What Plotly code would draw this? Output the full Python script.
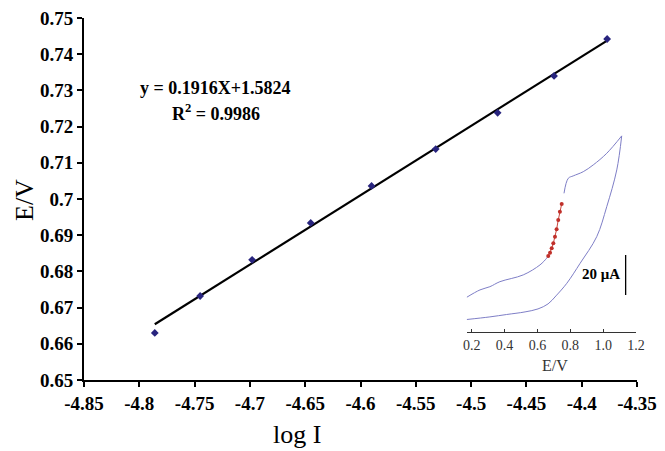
import plotly.graph_objects as go

# Main calibration data
log_i = [-4.786, -4.745, -4.698, -4.645, -4.590, -4.532, -4.476, -4.425, -4.377]
e_v = [0.6630, 0.6732, 0.6832, 0.6934, 0.7036, 0.7138, 0.7238, 0.7340, 0.7442]
slope = 0.1916
intercept = 1.5824
x_ticks = [-4.85, -4.8, -4.75, -4.7, -4.65, -4.6, -4.55, -4.5, -4.45, -4.4, -4.35]
x_tick_text = ["-4.85", "-4.8", "-4.75", "-4.7", "-4.65", "-4.6", "-4.55", "-4.5", "-4.45", "-4.4", "-4.35"]
y_ticks = [0.65, 0.66, 0.67, 0.68, 0.69, 0.70, 0.71, 0.72, 0.73, 0.74, 0.75]
y_tick_text = ["0.65", "0.66", "0.67", "0.68", "0.69", "0.7", "0.71", "0.72", "0.73", "0.74", "0.75"]

# Inset cyclic voltammogram (E in V, I in uA, arbitrary zero)
cv_fwd1_e = [0.170, 0.251, 0.311, 0.372, 0.514, 0.616, 0.656, 0.666]
cv_fwd1_i = [17.2, 20.9, 22.5, 25.0, 28.4, 33.4, 36.7, 37.8]
cv_fwd2_e = [0.762, 0.788, 0.818, 0.879, 0.940, 1.022, 1.113]
cv_fwd2_i = [69.2, 76.7, 77.9, 80.0, 83.4, 89.2, 97.9]
cv_rev_e = [1.113, 1.083, 1.022, 0.961, 0.860, 0.779, 0.713, 0.665, 0.604, 0.525, 0.413, 0.311, 0.170]
cv_rev_i = [97.9, 80.9, 62.5, 47.5, 34.2, 24.2, 17.9, 13.9, 11.4, 9.9, 8.6, 7.4, 6.1]
red_e = [0.666, 0.677, 0.687, 0.697, 0.707, 0.717, 0.727, 0.737, 0.748]
red_i = [37.8, 39.5, 41.7, 44.2, 47.5, 51.2, 55.9, 60.0, 63.9]
inset_ticks = [0.2, 0.4, 0.6, 0.8, 1.0, 1.2]
inset_tick_text = ["0.2", "0.4", "0.6", "0.8", "1.0", "1.2"]
scale_bar_e = [1.137, 1.137]
scale_bar_i = [18.4, 38.4]

FONT = "Times New Roman"
W, H = 665, 451
L, R, T, B = 84, 28, 18, 71
PW, PH = W - L - R, H - T - B


def px_x(px):
    return (px - L) / PW


def px_y(py):
    return (H - B - py) / PH


fig = go.Figure()

fit_x = [log_i[0], log_i[-1]]
fit_y = [slope * v + intercept for v in fit_x]
fig.add_trace(go.Scatter(x=fit_x, y=fit_y, mode="lines",
                         line=dict(color="black", width=2.2), showlegend=False))
fig.add_trace(go.Scatter(x=log_i, y=e_v, mode="markers",
                         marker=dict(symbol="diamond", size=6, color="#28247E"),
                         showlegend=False))

cv_line = dict(color="#7E7EC6", width=1)
fig.add_trace(go.Scatter(x=cv_fwd1_e, y=cv_fwd1_i, mode="lines", line=dict(cv_line, shape="spline"),
                         xaxis="x2", yaxis="y2", showlegend=False))
fig.add_trace(go.Scatter(x=cv_fwd2_e, y=cv_fwd2_i, mode="lines", line=dict(cv_line, shape="spline"),
                         xaxis="x2", yaxis="y2", showlegend=False))
fig.add_trace(go.Scatter(x=cv_rev_e, y=cv_rev_i, mode="lines", line=dict(cv_line, shape="spline"),
                         xaxis="x2", yaxis="y2", showlegend=False))
fig.add_trace(go.Scatter(x=red_e, y=red_i, mode="lines+markers",
                         line=dict(color="#C8463C", width=1),
                         marker=dict(size=4, color="#C0302A"),
                         xaxis="x2", yaxis="y2", showlegend=False))
fig.add_trace(go.Scatter(x=scale_bar_e, y=scale_bar_i, mode="lines",
                         line=dict(color="black", width=1.3),
                         xaxis="x2", yaxis="y2", showlegend=False))


def ann(text, x, y, size, bold_=False, color="black", angle=0, xanchor="center"):
    return dict(text=("<b>%s</b>" % text) if bold_ else text, x=px_x(x), y=px_y(y),
                xref="paper", yref="paper", xanchor=xanchor, yanchor="middle",
                textangle=angle, showarrow=False,
                font=dict(family=FONT, size=size, color=color))


tick_font = dict(family=FONT, size=19, color="black", weight=700)

fig.update_layout(
    width=W, height=H,
    margin=dict(l=L, r=R, t=T, b=B, autoexpand=False),
    paper_bgcolor="white", plot_bgcolor="white",
    font=dict(family=FONT, color="black"),
    xaxis=dict(range=[-4.85, -4.35], tickvals=x_ticks, ticktext=x_tick_text, automargin=False,
               showgrid=False, zeroline=False, showline=True, linecolor="black", linewidth=2,
               ticks="outside", ticklen=5, tickwidth=2, tickcolor="black",
               tickfont=tick_font),
    yaxis=dict(range=[0.65, 0.75], tickvals=y_ticks, ticktext=y_tick_text, automargin=False,
               showgrid=False, zeroline=False, showline=True, linecolor="black", linewidth=2,
               ticks="outside", ticklen=5, tickwidth=2, tickcolor="black",
               tickfont=tick_font),
    xaxis2=dict(domain=[px_x(466.7), px_x(636)], anchor="y2", range=[0.17, 1.2],
                tickvals=inset_ticks, ticktext=inset_tick_text, automargin=False,
                showgrid=False, zeroline=False, showline=True, linecolor="#333", linewidth=1,
                ticks="inside", ticklen=3, tickwidth=1, tickcolor="#333",
                tickfont=dict(family=FONT, size=14, color="#333")),
    yaxis2=dict(domain=[px_y(331.7), px_y(130)], anchor="x2", range=[0, 100.85],
                visible=False),
    annotations=[
        ann("y = 0.1916X+1.5824", 215, 88, 18, bold_=True),
        ann("R<sup>2</sup> = 0.9986", 216, 112, 18, bold_=True),
        ann("E/V", 25, 200, 26, angle=-90),
        ann("log I", 297, 434, 26),
        ann("E/V", 555, 365, 16, color="#333"),
        ann("20 μA", 622, 274, 15, bold_=True, xanchor="right"),
    ],
)

fig.write_html("out.html")
